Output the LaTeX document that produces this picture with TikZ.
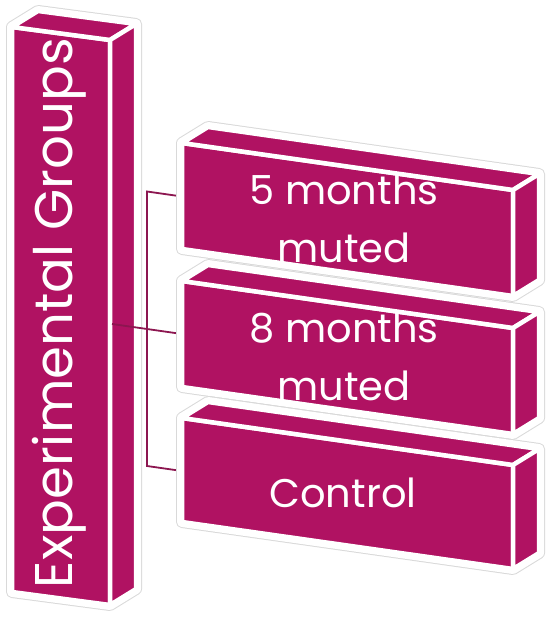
\documentclass[tikz,border=0pt]{standalone}
\usepackage{fontspec}
\setmainfont{Poppins}
\definecolor{berry}{RGB}{176,18,98}
\definecolor{berrydark}{RGB}{140,22,80}
\tikzset{
  halo/.style={draw=gray!30,line width=12pt,line join=round,fill=white},
  rim/.style={draw=white,line width=10pt,line join=round},
  face/.style={fill=berry,draw=white,line width=4.5pt,line join=round},
  link/.style={draw=berrydark,line width=1.8pt},
  boxtext/.style={text=white,font=\fontsize{40}{58}\selectfont,align=center,inner sep=0pt}
}
% slab: x, y, width, height, drop
\newcommand{\slab}[5]{
  \path[halo] (#1,#2) -- ++(26,-16) -- ++(#3,#5) -- ++(0,#4) -- ++(-26,16) -- ++(-#3,-#5) -- cycle;
  \path[rim] (#1,#2) -- ++(26,-16) -- ++(#3,#5) -- ++(0,#4) -- ++(-26,16) -- ++(-#3,-#5) -- cycle;
  \path[face] (#1,#2) -- ++(#3,#5) -- ++(0,#4) -- ++(-#3,-#5) -- cycle;
  \path[face] (#1,#2) -- ++(26,-16) -- ++(#3,#5) -- ++(-26,16) -- cycle;
  \path[face] (#1,#2) ++(#3,#5) -- ++(26,-16) -- ++(0,#4) -- ++(-26,16) -- cycle;
}
\begin{document}
\begin{tikzpicture}[x=1pt,y=-1pt]
\useasboundingbox (0,0) rectangle (550,620);

% column
\slab{12}{27}{98}{565}{13}
\node[boxtext,rotate=90,font=\fontsize{53}{60}\selectfont] (groups) at (59,313) {Experimental Groups};

% connectors
\coordinate (col-e) at (112,324);
\coordinate (g1-w) at (182,196.5);
\coordinate (g2-w) at (182,334);
\coordinate (g3-w) at (182,471);
\coordinate (br-top) at (147,191.5);
\coordinate (br-bot) at (147,466);
\draw[link] (col-e) -- (g2-w);
\draw[link] (g1-w) -- (br-top) -- (br-bot) -- (g3-w);

% boxes
\slab{182}{143}{331}{106}{47}
\slab{182}{281}{331}{106}{47}
\slab{182}{418}{331}{104}{47}
\node[boxtext] (five) at (344,219) {5 months\\muted};
\node[boxtext] (eight) at (344,357) {8 months\\muted};
\node[boxtext] (control) at (343,493) {Control};
\end{tikzpicture}
\end{document}
